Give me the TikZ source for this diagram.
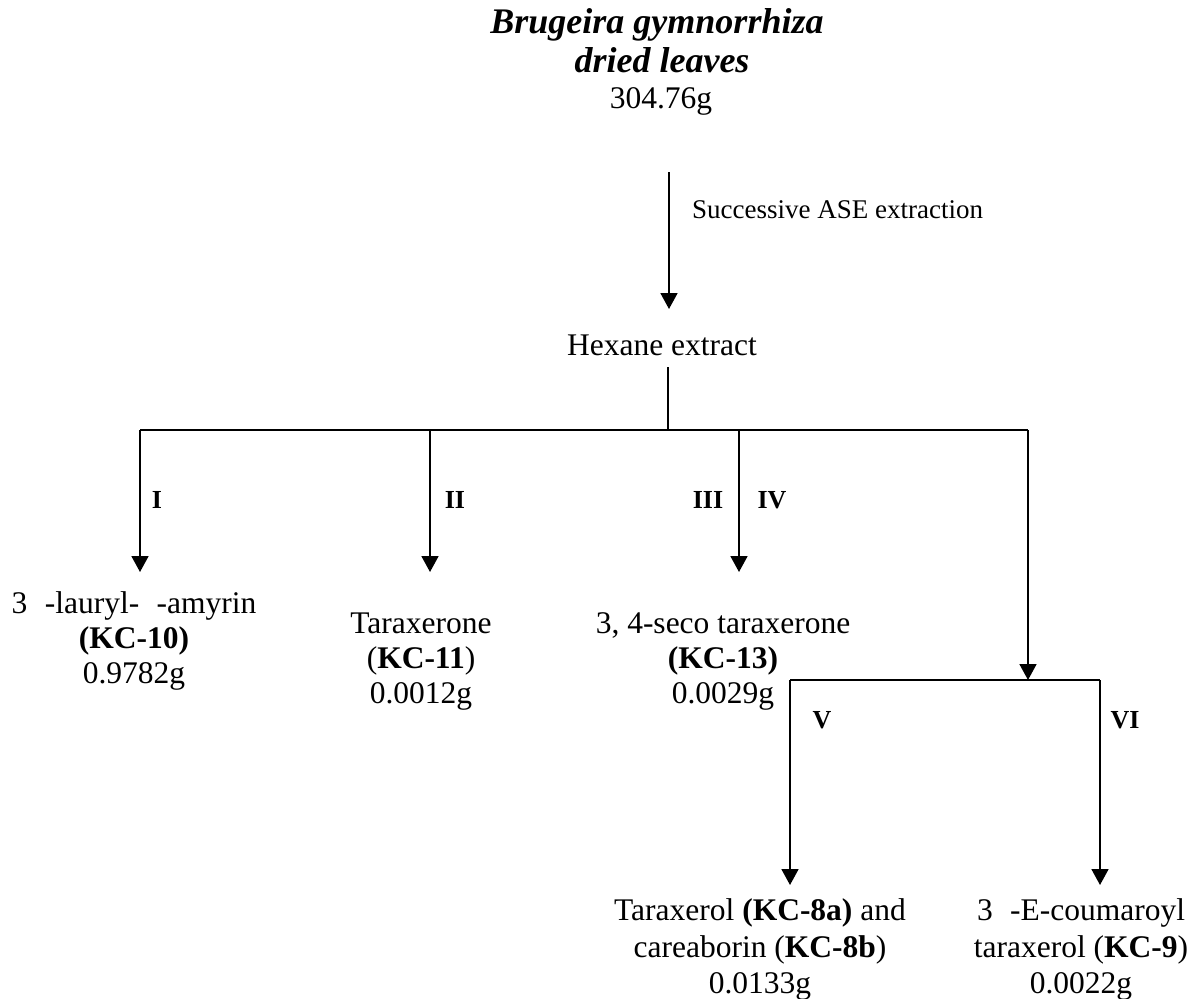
\documentclass[tikz,border=0pt]{standalone}
\usepackage{fontspec}
\setmainfont{Liberation Serif}
\usetikzlibrary{arrows.meta}
\tikzset{
  txt/.style={font=\fontsize{31.5}{35}\selectfont, inner sep=0pt, anchor=base},
  ttl/.style={font=\fontsize{36}{40}\selectfont\bfseries\itshape, inner sep=0pt, anchor=base},
  lbl/.style={font=\fontsize{26}{30}\selectfont\bfseries, inner sep=0pt, anchor=base},
  sml/.style={font=\fontsize{27}{30}\selectfont, inner sep=0pt, anchor=base west},
  ln/.style={line width=1.8pt},
  arr/.style={ln, -{Triangle[width=17pt,length=16pt]}}
}
\begin{document}
\begin{tikzpicture}[x=1pt,y=-1pt]
\path[use as bounding box] (0,0) rectangle (1192,999);
% top
\node[ttl] (t1) at (657,33) {Brugeira gymnorrhiza};
\node[ttl] (t2) at (662,72) {dried leaves};
\node[txt] (w0) at (661,108) {304.76g};
\node[sml] (ase) at (692,218) {Successive ASE extraction};
\node[txt] (hex) at (662,355) {Hexane extract};
\coordinate (a0) at (669,172);
\coordinate (a1) at (669,309);
\draw[arr] (a0) -- (a1);
% first level
\coordinate (hs) at (668,367);
\coordinate (hj) at (668,430);
\coordinate (jL) at (140,430);
\coordinate (jR) at (1028,430);
\coordinate (j2) at (430,430);
\coordinate (j4) at (739,430);
\draw[ln] (hs) -- (hj);
\draw[ln] (jL) -- (jR);
\coordinate (e1) at (140,572);
\coordinate (e2) at (430,572);
\coordinate (e4) at (739,572);
\draw[arr] (jL) -- (e1);
\draw[arr] (j2) -- (e2);
\draw[arr] (j4) -- (e4);
\node[lbl] (lI) at (157,508) {I};
\node[lbl] (lII) at (455,508) {II};
\node[lbl] (lIII) at (708,508) {III};
\node[lbl] (lIV) at (772,508) {IV};
% products level 1
\node[txt] (p1a) at (134,613) {3\hspace{0.55em}-lauryl-\hspace{0.55em}-amyrin};
\node[txt] (p1b) at (134,648) {\textbf{(KC-10)}};
\node[txt] (p1c) at (134,683) {0.9782g};
\node[txt] (p2a) at (421,633) {Taraxerone};
\node[txt] (p2b) at (421,668) {(\textbf{KC-11})};
\node[txt] (p2c) at (421,703) {0.0012g};
\node[txt] (p3a) at (723,633) {3, 4-seco taraxerone};
\node[txt] (p3b) at (723,668) {\textbf{(KC-13)}};
\node[txt] (p3c) at (723,703) {0.0029g};
% second level
\coordinate (k2) at (1028,680);
\coordinate (kL) at (790,680);
\coordinate (kR) at (1100,680);
\draw[arr] (jR) -- (k2);
\draw[ln] (kL) -- (kR);
\coordinate (f5) at (790,885);
\coordinate (f6) at (1100,885);
\draw[arr] (kL) -- (f5);
\draw[arr] (kR) -- (f6);
\node[lbl] (lV) at (822,728) {V};
\node[lbl] (lVI) at (1125,728) {VI};
\node[txt] (q1a) at (760,920) {Taraxerol \textbf{(KC-8a)} and};
\node[txt] (q1b) at (760,957) {careaborin (\textbf{KC-8b})};
\node[txt] (q1c) at (760,993) {0.0133g};
\node[txt] (q2a) at (1081,920) {3\hspace{0.55em}-E-coumaroyl};
\node[txt] (q2b) at (1081,957) {taraxerol (\textbf{KC-9})};
\node[txt] (q2c) at (1081,993) {0.0022g};
\end{tikzpicture}
\end{document}
